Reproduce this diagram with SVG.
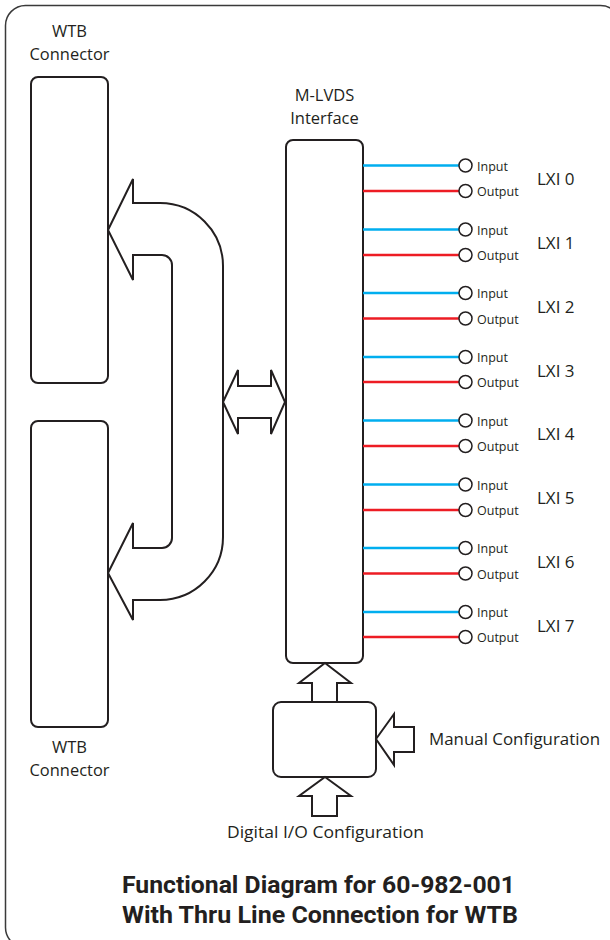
<svg xmlns="http://www.w3.org/2000/svg" width="610" height="940" viewBox="0 0 610 940">
<style>
.box{fill:#fff;stroke:#231f20;stroke-width:2}
.arr{fill:#fff;stroke:#231f20;stroke-width:2;stroke-linejoin:miter}
.lbl{font-family:"Open Sans","Noto Sans",sans-serif;font-size:16.5px;fill:#231f20}
.io{font-family:"Open Sans","Noto Sans",sans-serif;font-size:12.5px;fill:#231f20}
.lxi{font-family:"Open Sans","Noto Sans",sans-serif;font-size:17px;fill:#231f20}
.ttl{font-family:Roboto,"Liberation Sans",sans-serif;font-size:23px;font-weight:700;fill:#231f20}
.in{stroke:#00aeef;stroke-width:2.5}
.out{stroke:#ed1c24;stroke-width:2.5}
.port{fill:#fff;stroke:#231f20;stroke-width:1.5}
</style>
<rect x="5.5" y="5.5" width="615" height="942" rx="20" fill="#fff" stroke="#3a3a3a" stroke-width="1.5"/>

<g id="wtb-top">
<rect class="box" x="31" y="77" width="77" height="306" rx="7"/>
<text class="lbl" x="69.5" y="37" text-anchor="middle">WTB</text>
<text class="lbl" x="69.5" y="60" text-anchor="middle" textLength="80" lengthAdjust="spacingAndGlyphs">Connector</text>
</g>
<g id="wtb-bottom">
<rect class="box" x="31" y="421" width="77" height="306" rx="7"/>
<text class="lbl" x="69.5" y="753" text-anchor="middle">WTB</text>
<text class="lbl" x="69.5" y="776" text-anchor="middle" textLength="80" lengthAdjust="spacingAndGlyphs">Connector</text>
</g>
<g id="mlvds">
<rect class="box" x="286" y="140" width="77" height="523" rx="7"/>
<text class="lbl" x="324.5" y="101" text-anchor="middle">M-LVDS</text>
<text class="lbl" x="324.5" y="124" text-anchor="middle">Interface</text>
</g>
<g id="config">
<rect class="box" x="273" y="702" width="103" height="75" rx="8"/>
</g>
<g id="manual-label">
<text class="lbl" x="429" y="745" textLength="171" lengthAdjust="spacingAndGlyphs">Manual Configuration</text>
</g>
<g id="digital-label">
<text class="lbl" x="325.5" y="838" text-anchor="middle" textLength="197" lengthAdjust="spacingAndGlyphs">Digital I/O Configuration</text>
</g>

<g id="connectors">
<path class="arr" d="M108,230 L133,179 L133,203 L160,203 A63,63 0 0 1 223,266 L223,537 A63,63 0 0 1 160,600 L133,600 L133,620 L108,573 L133,523 L133,548 L162,548 A10,10 0 0 0 172,538 L172,265 A10,10 0 0 0 162,255 L133,255 L133,280 Z"/>
<path class="arr" d="M223,402 L238,370 L238,386 L271,386 L271,370 L285,402 L271,434 L271,418 L238,418 L238,434 Z"/>
<path class="arr" d="M325,663 L351,683 L337,683 L337,702 L312,702 L312,683 L299,683 Z"/>
<path class="arr" d="M325,777 L351,796 L337,796 L337,816 L312,816 L312,796 L299,796 Z"/>
<path class="arr" d="M376,739 L394,714 L394,727 L414,727 L414,752 L394,752 L394,765 Z"/>
<g>
<line class="in" x1="363" y1="165.5" x2="459" y2="165.5"/><line class="out" x1="363" y1="191" x2="459" y2="191"/>
<line class="in" x1="363" y1="229.5" x2="459" y2="229.5"/><line class="out" x1="363" y1="255" x2="459" y2="255"/>
<line class="in" x1="363" y1="293" x2="459" y2="293"/><line class="out" x1="363" y1="318.5" x2="459" y2="318.5"/>
<line class="in" x1="363" y1="357" x2="459" y2="357"/><line class="out" x1="363" y1="382" x2="459" y2="382"/>
<line class="in" x1="363" y1="420.5" x2="459" y2="420.5"/><line class="out" x1="363" y1="446" x2="459" y2="446"/>
<line class="in" x1="363" y1="484.5" x2="459" y2="484.5"/><line class="out" x1="363" y1="510" x2="459" y2="510"/>
<line class="in" x1="363" y1="548" x2="459" y2="548"/><line class="out" x1="363" y1="573.5" x2="459" y2="573.5"/>
<line class="in" x1="363" y1="612" x2="459" y2="612"/><line class="out" x1="363" y1="637" x2="459" y2="637"/>
</g>
</g>

<g id="lxi0" transform="translate(0,165.5)"><circle class="port" cx="465.5" cy="0" r="6.5"/><circle class="port" cx="465.5" cy="25.5" r="6.5"/><text class="io" x="477" y="5">Input</text><text class="io" x="477" y="30.5">Output</text><text class="lxi" x="537" y="19.5">LXI 0</text></g>
<g id="lxi1" transform="translate(0,229.5)"><circle class="port" cx="465.5" cy="0" r="6.5"/><circle class="port" cx="465.5" cy="25.5" r="6.5"/><text class="io" x="477" y="5">Input</text><text class="io" x="477" y="30.5">Output</text><text class="lxi" x="537" y="19.5">LXI 1</text></g>
<g id="lxi2" transform="translate(0,293)"><circle class="port" cx="465.5" cy="0" r="6.5"/><circle class="port" cx="465.5" cy="25.5" r="6.5"/><text class="io" x="477" y="5">Input</text><text class="io" x="477" y="30.5">Output</text><text class="lxi" x="537" y="19.5">LXI 2</text></g>
<g id="lxi3" transform="translate(0,357)"><circle class="port" cx="465.5" cy="0" r="6.5"/><circle class="port" cx="465.5" cy="25" r="6.5"/><text class="io" x="477" y="5">Input</text><text class="io" x="477" y="30">Output</text><text class="lxi" x="537" y="19.5">LXI 3</text></g>
<g id="lxi4" transform="translate(0,420.5)"><circle class="port" cx="465.5" cy="0" r="6.5"/><circle class="port" cx="465.5" cy="25.5" r="6.5"/><text class="io" x="477" y="5">Input</text><text class="io" x="477" y="30.5">Output</text><text class="lxi" x="537" y="19.5">LXI 4</text></g>
<g id="lxi5" transform="translate(0,484.5)"><circle class="port" cx="465.5" cy="0" r="6.5"/><circle class="port" cx="465.5" cy="25.5" r="6.5"/><text class="io" x="477" y="5">Input</text><text class="io" x="477" y="30.5">Output</text><text class="lxi" x="537" y="19.5">LXI 5</text></g>
<g id="lxi6" transform="translate(0,548)"><circle class="port" cx="465.5" cy="0" r="6.5"/><circle class="port" cx="465.5" cy="25.5" r="6.5"/><text class="io" x="477" y="5">Input</text><text class="io" x="477" y="30.5">Output</text><text class="lxi" x="537" y="19.5">LXI 6</text></g>
<g id="lxi7" transform="translate(0,612)"><circle class="port" cx="465.5" cy="0" r="6.5"/><circle class="port" cx="465.5" cy="25" r="6.5"/><text class="io" x="477" y="5">Input</text><text class="io" x="477" y="30">Output</text><text class="lxi" x="537" y="19.5">LXI 7</text></g>

<g id="title">
<text class="ttl" x="318.5" y="893" text-anchor="middle" textLength="393" lengthAdjust="spacingAndGlyphs">Functional Diagram for 60-982-001</text>
<text class="ttl" x="320" y="923" text-anchor="middle" textLength="396" lengthAdjust="spacingAndGlyphs">With Thru Line Connection for WTB</text>
</g>
</svg>
